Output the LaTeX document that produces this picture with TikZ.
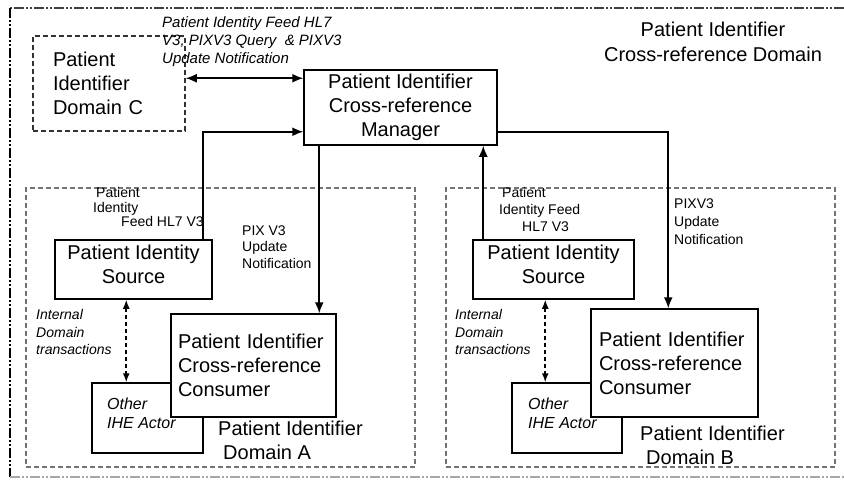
\documentclass[tikz,border=0pt]{standalone}
\usepackage{fontspec}
\setmainfont{Liberation Sans}
\usetikzlibrary{arrows.meta,calc}
\begin{document}
\begin{tikzpicture}[x=1pt,y=-1pt,
  box/.style={draw, line width=1.5pt, fill=white, inner sep=0pt, font=\fontsize{20}{24}\selectfont},
  cbox/.style={box, draw=black!80, dash pattern=on 5pt off 3pt},
  dom/.style={draw=black!55, line width=1.3pt, dash pattern=on 5pt off 3pt, inner sep=0pt},
  lbl/.style={inner sep=0pt, anchor=west, align=left},
  big/.style={font=\fontsize{20}{24}\selectfont},
  frame/.style={dash pattern=on 10pt off 2pt on 2pt off 2pt on 2pt off 2pt},
  dbl/.style={line width=1.6pt, {Latex[length=11pt,width=9pt]}-{Latex[length=11pt,width=9pt]}},
  conn/.style={line width=1.6pt, -{Latex[length=11pt,width=9pt]}},
  dconn/.style={line width=1.6pt, dash pattern=on 4pt off 3pt, {Latex[length=9pt,width=7pt]}-{Latex[length=9pt,width=7pt]}},
]
\useasboundingbox (0,0) rectangle (844,482);
% outer frame
\draw[black!75, line width=1.2pt, frame] (844,8) -- (10,8);
\draw[black, line width=1.5pt, frame] (10,8) -- (10,477);
\draw[black!35, line width=1.2pt, frame] (10,477) -- (844,477);
% domains
\node[dom, minimum width=389, minimum height=279] (domA) at (220.5,327.5) {};
\node[dom, minimum width=389, minimum height=279] (domB) at (640.5,327.5) {};
% boxes
\node[cbox, minimum height=95, text width=112pt, inner xsep=20pt, align=left] (dc) at (109,83.5) {Patient\\Identifier\\Domain C};
\node[box, minimum width=193, minimum height=75, align=center] (mgr) at (400.5,107.5) {Patient Identifier\\Cross-reference\\Manager};
\node[box, minimum width=157, minimum height=59, align=center, text depth=10pt] (srcA) at (133.5,269.5) {Patient Identity\\Source};
\node[box, minimum width=161, minimum height=59, align=center, text depth=10pt] (srcB) at (553.5,269.5) {Patient Identity\\Source};
\node[box, minimum width=111, minimum height=70] (othA) at (147.5,418) {};
\node[lbl, font=\fontsize{16}{19}\selectfont\itshape] (othAt) at (107,413.5) {Other\\IHE Actor};
\node[box, minimum width=110, minimum height=70] (othB) at (567,418) {};
\node[lbl, font=\fontsize{16}{19}\selectfont\itshape] (othBt) at (528,413) {Other\\IHE Actor};
\node[box, minimum width=165, minimum height=103, text width=151pt, inner xsep=7pt, align=left] (conA) at (253.5,365.5) {Patient Identifier\\Cross-reference\\Consumer};
\node[box, minimum width=167, minimum height=108, text width=151pt, inner xsep=8pt, align=left] (conB) at (674.5,363) {Patient Identifier\\Cross-reference\\Consumer};
% labels
\node[inner sep=0pt, align=center, font=\fontsize{20}{25}\selectfont] (xdom) at (713,42) {Patient Identifier\\Cross-reference Domain};
\node[lbl, font=\fontsize{15}{18}\selectfont\itshape] (qlbl) at (162,42) {Patient Identity Feed HL7\\V3, PIXV3 Query \ \& PIXV3\\Update Notification};
\node[lbl, font=\fontsize{14}{14.5}\selectfont] (feedA) at (93,207) {\hspace*{3pt}Patient\\Identity\\\hspace*{28pt}Feed HL7 V3};
\node[lbl, font=\fontsize{14}{16.5}\selectfont] (pixA) at (242,247) {PIX V3\\Update\\Notification};
\node[lbl, font=\fontsize{14}{17}\selectfont] (feedB) at (499,209) {\hspace*{3pt}Patient\\Identity Feed\\\hspace*{23pt}HL7 V3};
\node[lbl, font=\fontsize{14}{18}\selectfont] (pixB) at (674,222) {PIXV3\\Update\\Notification};
\node[lbl, font=\fontsize{14}{17.5}\selectfont\itshape] (intA) at (36,332) {Internal\\Domain\\transactions};
\node[lbl, font=\fontsize{14}{17.5}\selectfont\itshape] (intB) at (455,332) {Internal\\Domain\\transactions};
\node[lbl, big] (dlA) at (218,440) {Patient Identifier\\\hspace*{5pt}Domain A};
\node[lbl, big] (dlB) at (640,445) {Patient Identifier\\\hspace*{6pt}Domain B};
% connectors
\coordinate (m1) at ($(mgr.north west)+(0,9)$);
\draw[dbl] (dc.east |- m1) -- (m1);
\coordinate (m2) at ($(mgr.south west)+(0,-14)$);
\coordinate (sA) at ($(srcA.north east)+(-10,0)$);
\draw[conn] (sA) |- (m2);
\coordinate (m3) at ($(mgr.south west)+(16,0)$);
\draw[conn] (m3) -- (m3 |- conA.north);
\coordinate (m4) at (mgr.east |- m2);
\coordinate (cB) at ($(conB.north west)+(78,0)$);
\draw[conn] (m4) -| (cB);
\coordinate (sB) at ($(srcB.north west)+(11,0)$);
\draw[conn] (sB) -- (sB |- mgr.south);
\coordinate (oA) at ($(othA.north west)+(35,0)$);
\draw[dconn] (oA |- srcA.south) -- (oA);
\coordinate (oB) at ($(othB.north west)+(34,0)$);
\draw[dconn] (oB |- srcB.south) -- (oB);
\end{tikzpicture}
\end{document}
